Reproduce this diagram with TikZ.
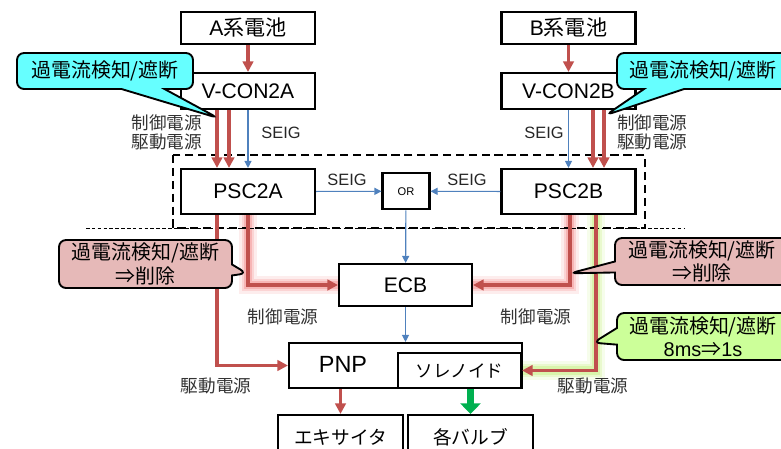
\documentclass[tikz,border=0pt]{standalone}
\usepackage{fontspec}
\setmainfont{Liberation Sans}
\newfontfamily\jp{Noto Sans CJK JP}
\usetikzlibrary{arrows.meta, positioning, shapes.callouts, backgrounds}

\definecolor{pwr}{RGB}{192,80,77}
\definecolor{sig}{RGB}{79,129,189}
\definecolor{vlv}{RGB}{0,176,80}
\definecolor{warn}{RGB}{102,255,255}
\definecolor{drop}{RGB}{230,185,184}
\definecolor{slow}{RGB}{204,255,153}
\definecolor{glowred}{RGB}{240,110,110}
\definecolor{glowgrn}{RGB}{180,235,90}

\tikzset{
  blk/.style={draw, line width=1.8pt, fill=white, inner sep=0pt, font=\fontsize{18}{20}\selectfont},
  pwrline/.style={draw=pwr, line width=2.6pt, -{Triangle[length=9pt,width=9pt]}},
  sigline/.style={draw=sig, line width=1pt, -{Triangle[length=6pt,width=6pt]}},
  vlvline/.style={draw=vlv, line width=6pt, -{Triangle[length=9pt,width=17pt]}},
  lbl/.style={font=\jp\fontsize{15}{17}\selectfont, text=black!80, inner sep=0pt},
  seig/.style={font=\fontsize{14}{16}\selectfont, text=black!85, inner sep=0pt},
  note/.style={rectangle callout, draw, line width=1.6pt, rounded corners=6pt, align=center, inner sep=0pt, font=\jp\fontsize{17}{20}\selectfont},
}

\begin{document}
\begin{tikzpicture}[x=0.03cm, y=-0.03cm]
\useasboundingbox (0,0) rectangle (781,449);
\clip (0,0) rectangle (781,449);

% batteries, converters, PSC
\node[blk, minimum width=4.02cm, minimum height=0.96cm] (bata) at (248,28) {A{\jp 系電池}};
\node[blk, minimum width=4.02cm, minimum height=1.08cm] (vca) at (248,91) {V-CON2A};
\node[blk, minimum width=4.02cm, minimum height=0.96cm] (batb) at (568.5,28) {B{\jp 系電池}};
\node[blk, minimum width=4.02cm, minimum height=1.08cm] (vcb) at (568.5,91) {V-CON2B};
\node[blk, minimum width=4.02cm, minimum height=1.35cm] (psca) at (248,191.5) {PSC2A};
\node[blk, minimum width=4.02cm, minimum height=1.35cm] (pscb) at (568.5,191.5) {PSC2B};
\node[blk, minimum width=1.41cm, minimum height=1.08cm, font=\fontsize{9.5}{11}\selectfont] (orgate) at (406,191.3) {OR};

% loads
\node[blk, minimum width=3.99cm, minimum height=1.26cm] (ecb) at (405.5,285) {ECB};
\node[blk, minimum width=6.99cm, minimum height=1.35cm] (pnp) at (405.5,365.5) {};
\node[font=\fontsize{20}{22}\selectfont] (pnplbl) at (343,364) {PNP};
\node[blk, minimum width=3.69cm, minimum height=1.05cm, font=\jp\fontsize{15}{17}\selectfont] (sol) at (459.5,370.5) {ソレノイド};
\node[blk, minimum width=3.75cm, minimum height=1.32cm, font=\jp\fontsize{16}{18}\selectfont] (exc) at (340.5,437) {エキサイタ};
\node[blk, minimum width=3.75cm, minimum height=1.32cm, font=\jp\fontsize{16}{18}\selectfont] (vlvs) at (470.5,437) {各バルブ};

\coordinate (xa1) at (217,0); \coordinate (xa2) at (229,0);
\coordinate (xb1) at (593,0); \coordinate (xb2) at (604,0);
\coordinate (xb3) at (596,0); \coordinate (xb4) at (570,0);

% glow and dashed frame
\begin{scope}[on background layer]
\foreach \w/\o in {16pt/.12, 11pt/.2, 7pt/.3}{
  \draw[glowred, line width=\w, opacity=\o, line cap=round] (psca.south) |- (ecb.west);
  \draw[glowred, line width=\w, opacity=\o, line cap=round] (pscb.south -| xb4) |- (ecb.east);
  \draw[glowgrn, line width=\w, opacity=\o, line cap=round] (pscb.south -| xb3) |- (sol.east);
}
\draw[line width=1.8pt, dash pattern=on 7pt off 4pt] (173,155) rectangle (645,228);
\draw[line width=0.6pt, dash pattern=on 3pt off 2pt] (86,228.5) -- (685,228.5);
\end{scope}

% power
\draw[pwrline] (bata) -- (vca);
\draw[pwrline] (vca.south -| xa1) -- (psca.north -| xa1);
\draw[pwrline] (vca.south -| xa2) -- (psca.north -| xa2);
\draw[pwrline] (batb) -- (vcb);
\draw[pwrline] (vcb.south -| xb1) -- (pscb.north -| xb1);
\draw[pwrline] (vcb.south -| xb2) -- (pscb.north -| xb2);
\draw[pwrline] (psca.south -| xa1) |- (pnp.west);
\draw[pwrline] (psca.south) |- (ecb.west);
\draw[pwrline] (pscb.south -| xb4) |- (ecb.east);
\draw[pwrline] (pscb.south -| xb3) |- (sol.east);
\draw[pwrline] (pnp.south -| exc.north) -- (exc.north);
\draw[vlvline] (sol.south -| vlvs.north) -- (vlvs.north);

% signals
\draw[sigline] (vca) -- (psca);
\draw[sigline] (vcb) -- (pscb);
\draw[sigline] (psca) -- (orgate);
\draw[sigline] (pscb) -- (orgate);
\draw[sigline] (orgate) -- (ecb);
\draw[sigline] (ecb) -- (pnp);

% labels
\node[lbl, anchor=east] (ctla) at (202,123) {制御電源};
\node[lbl, anchor=east] (drva) at (202,142) {駆動電源};
\node[lbl, anchor=west] (ctlb) at (617,123) {制御電源};
\node[lbl, anchor=west] (drvb) at (617,142) {駆動電源};
\node[seig] (sga) at (281,133) {SEIG};
\node[seig] (sgb) at (544,133) {SEIG};
\node[seig] (sgc) at (347,180) {SEIG};
\node[seig] (sgd) at (467,180) {SEIG};
\node[lbl] (ctlc) at (283,316.7) {制御電源};
\node[lbl] (ctld) at (536,316.7) {制御電源};
\node[lbl] (drvc) at (216,385.7) {駆動電源};
\node[lbl] (drvd) at (593,385.7) {駆動電源};

% callouts
\node[note, fill=warn, minimum width=5.28cm, minimum height=1.08cm,
  callout absolute pointer={(218,118)}, callout pointer width=1.29cm] (oca) at (105,71) {過電流検知/遮断};
\node[note, fill=warn, minimum width=5.16cm, minimum height=1.08cm,
  callout absolute pointer={(606,115)}, callout pointer width=1.2cm] (ocb) at (703,71) {過電流検知/遮断};
\node[note, fill=drop, minimum width=5.19cm, minimum height=1.44cm,
  callout absolute pointer={(246.7,273.3)}, callout pointer width=0.33cm] (dla) at (145.5,264) {過電流検知/遮断\\⇒削除};
\node[note, fill=drop, minimum width=5.22cm, minimum height=1.41cm,
  callout absolute pointer={(570,273.3)}, callout pointer width=0.33cm] (dlb) at (702,261.5) {過電流検知/遮断\\⇒削除};
\node[note, fill=slow, minimum width=5.16cm, minimum height=1.41cm,
  callout absolute pointer={(593.3,342.7)}, callout pointer width=0.5cm] (slw) at (703,336.5) {過電流検知/遮断\\{\rmfamily 8ms}⇒{\rmfamily 1s}};
\end{tikzpicture}
\end{document}
